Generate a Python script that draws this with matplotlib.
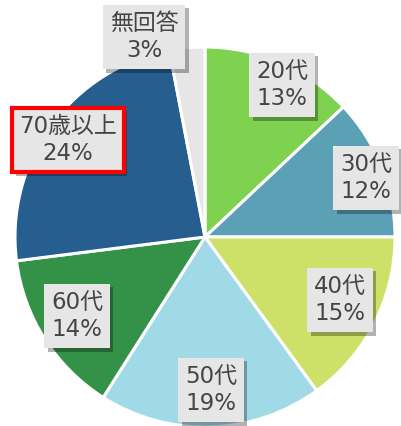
import matplotlib
matplotlib.use('Agg')
import matplotlib.pyplot as plt
from matplotlib import patheffects as pe

# DejaVu first so digits look wide like the original, kanji fall back to Noto CJK
plt.rcParams['font.family'] = ['DejaVu Sans', 'Noto Sans CJK JP']

# data
categories = ['20代', '30代', '40代', '50代', '60代', '70歳以上', '無回答']
shares = [13, 12, 15, 19, 14, 24, 3]

# style / layout
colors = ['#7ED250', '#5CA0B6', '#CDE068', '#A0DAE6', '#349148', '#255E8F', '#E6E6E6']
# label box centres in pie units (radius = 1)
label_pos = [(0.405, 0.80), (0.847, 0.310), (0.710, -0.332), (0.032, -0.805),
             (-0.674, -0.416), (-0.721, 0.511), (-0.321, 1.053)]
highlight = '70歳以上'

W, H = 401, 426
cx, cy, R = 205, 237, 190

fig = plt.figure(figsize=(W / 100, H / 100), dpi=100)
ax = fig.add_axes([0, 0, 1, 1])

wedges, _ = ax.pie(shares, colors=colors, startangle=90, counterclock=False,
                   radius=1, center=(0, 0),
                   wedgeprops=dict(edgecolor='white', linewidth=2.2))

for name, val, (lx, ly) in zip(categories, shares, label_pos):
    red = name == highlight
    t = ax.text(lx, ly, f'{name}\n{val}%', ha='center', va='center',
                fontsize=16.5, color='#454545', linespacing=1.25,
                bbox=dict(boxstyle='square,pad=0.3', facecolor='#E6E6E6',
                          edgecolor='#FF0000' if red else 'none',
                          linewidth=3 if red else 0))
    t.get_bbox_patch().set_path_effects([
        pe.SimplePatchShadow(offset=(2.5, -2.5), shadow_rgbFace='black', alpha=0.3),
        pe.Normal()])

ax.set_xlim(-cx / R, (W - cx) / R)
ax.set_ylim((cy - H) / R, cy / R)
ax.set_aspect('auto')
ax.axis('off')

fig.savefig('out.png', dpi=100)
